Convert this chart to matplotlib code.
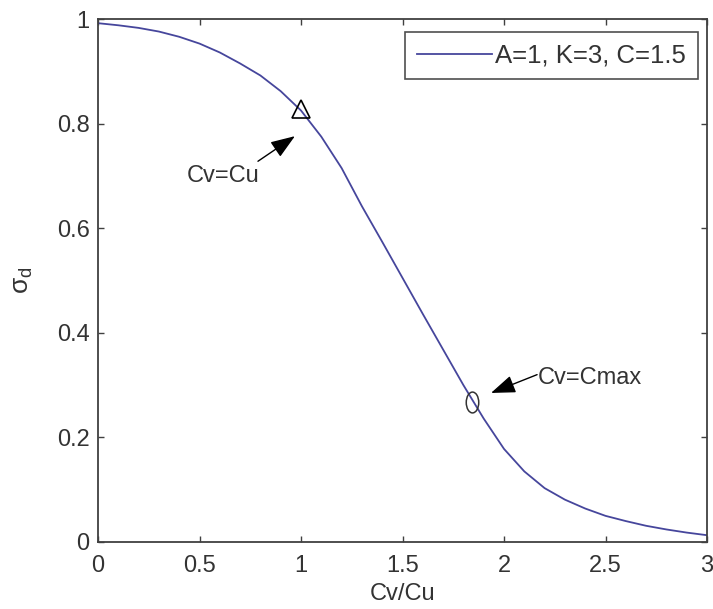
import matplotlib
matplotlib.use('Agg')
import matplotlib.pyplot as plt
from matplotlib.markers import MarkerStyle
from matplotlib.transforms import Affine2D

# curve
ratio = [0.0, 0.1, 0.2, 0.3, 0.4, 0.5, 0.6, 0.7, 0.8, 0.9, 1.0,
         1.1, 1.2, 1.3, 1.4, 1.5, 1.6, 1.7, 1.8, 1.9, 2.0,
         2.1, 2.2, 2.3, 2.4, 2.5, 2.6, 2.7, 2.8, 2.9, 3.0]
sigma = [0.992, 0.988, 0.983, 0.976, 0.966, 0.953, 0.936, 0.915, 0.892, 0.862, 0.825,
         0.775, 0.715, 0.642, 0.574, 0.505, 0.436, 0.368, 0.300, 0.236, 0.178,
         0.135, 0.103, 0.081, 0.064, 0.050, 0.040, 0.031, 0.024, 0.018, 0.013]

cuPointX, cuPointY = [1.0], [0.828]
cmaxPointX, cmaxPointY = [1.84], [0.267]

legendLabel = 'A=1, K=3, C=1.5'
xTicks = [0, 0.5, 1, 1.5, 2, 2.5, 3]
xTickLabels = ['0', '0.5', '1', '1.5', '2', '2.5', '3']
yTicks = [0, 0.2, 0.4, 0.6, 0.8, 1]
yTickLabels = ['0', '0.2', '0.4', '0.6', '0.8', '1']

plt.rcParams['font.family'] = ['Liberation Sans', 'DejaVu Sans']
plt.rcParams['mathtext.fontset'] = 'custom'
plt.rcParams['mathtext.rm'] = 'Liberation Sans'
plt.rcParams['mathtext.it'] = 'Liberation Sans'

textColor = '#333333'
axisColor = '#404040'
fs = 17

fig = plt.figure(figsize=(7.13, 6.09), dpi=100)
ax = fig.add_axes([98/713, 67/609, 609/713, 523/609])

ax.plot(ratio, sigma, color='#46469c', lw=1.3, label=legendLabel)
ax.plot(cuPointX, cuPointY, linestyle='none', marker='^', markersize=13,
        markerfacecolor='none', markeredgecolor='k', markeredgewidth=1.2)
ellipse = MarkerStyle('o', transform=Affine2D().scale(0.6, 1.0))
ax.plot(cmaxPointX, cmaxPointY, linestyle='none', marker=ellipse, markersize=15,
        markerfacecolor='none', markeredgecolor='#333333', markeredgewidth=1.1)

arrowStyle = dict(arrowstyle='-|>,head_length=0.6,head_width=0.22', color='k',
                  lw=1.0, mutation_scale=25, shrinkA=0, shrinkB=0)
ax.annotate('', xy=(0.970, 0.776), xytext=(0.788, 0.728), arrowprops=arrowStyle)
ax.annotate('', xy=(1.936, 0.285), xytext=(2.163, 0.320), arrowprops=arrowStyle)
ax.text(0.438, 0.699, 'Cv=Cu', fontsize=fs, color=textColor, va='center', ha='left')
ax.text(2.165, 0.314, 'Cv=Cmax', fontsize=fs, color=textColor, va='center', ha='left')

ax.set_xlim(0, 3)
ax.set_ylim(0, 1)
ax.set_xticks(xTicks)
ax.set_xticklabels(xTickLabels)
ax.set_yticks(yTicks)
ax.set_yticklabels(yTickLabels)
ax.tick_params(direction='in', top=True, right=True, length=4, width=1.0,
               color=axisColor, labelcolor=textColor, labelsize=fs)
ax.tick_params(axis='x', pad=9)
ax.tick_params(axis='y', pad=6)
for spine in ax.spines.values():
    spine.set_color(axisColor)
    spine.set_linewidth(1.3)

ax.set_xlabel('Cv/Cu', fontsize=fs, color=textColor, labelpad=5)
ax.set_ylabel(r'$\sigma_\mathrm{d}$', fontsize=fs + 2, color=textColor, labelpad=16)

leg = ax.legend(loc='upper right', bbox_to_anchor=(0.985, 0.975), borderaxespad=0,
                fontsize=18.5, fancybox=False, handlelength=2.9, handletextpad=0.15,
                borderpad=0.45, labelcolor=textColor)
leg.get_frame().set_edgecolor('#222222')
leg.get_frame().set_linewidth(1.2)

fig.savefig('out.png', dpi=100)
